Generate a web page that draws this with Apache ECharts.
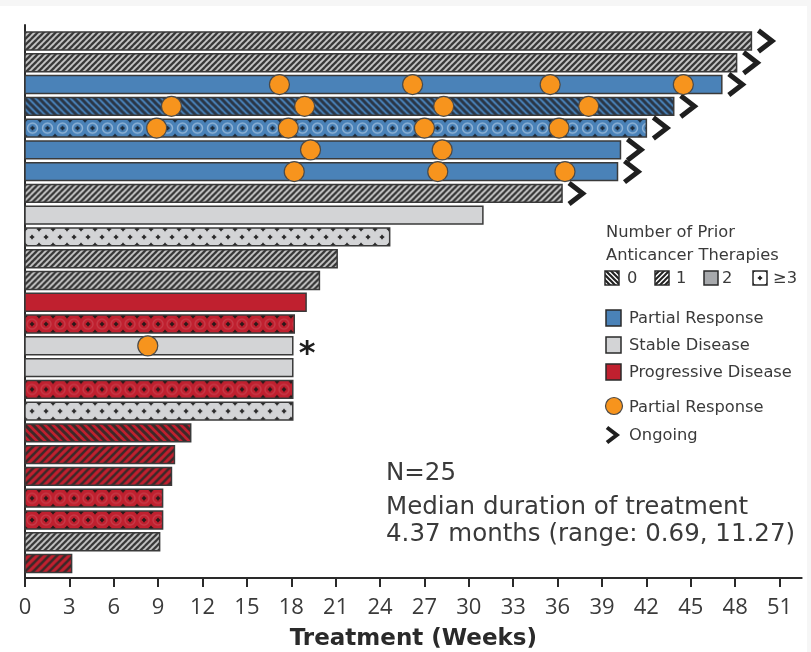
<!DOCTYPE html>
<html>
<head>
<meta charset="utf-8">
<script src="https://cdn.jsdelivr.net/npm/echarts@6/dist/echarts.min.js"></script>
<style>
  html, body { margin: 0; padding: 0; background: #fff; }
  #chart { width: 811px; height: 652px; }
</style>
</head>
<body>
<div id="chart"></div>
<script>
// Duration of treatment per patient (weeks), top row first
const weeks = [49.1, 48.1, 47.1, 43.85, 42.0, 40.25, 40.05, 36.3, 30.95, 24.65,
               21.1, 19.9, 19.0, 18.2, 18.1, 18.1, 18.1, 18.1, 11.2, 10.1,
               9.9, 9.3, 9.3, 9.1, 3.15];
// Best response: PR = partial response, SD = stable disease, PD = progressive disease
const response = ['SD', 'SD', 'PR', 'PR', 'PR', 'PR', 'PR', 'SD', 'SD', 'SD',
                  'SD', 'SD', 'PD', 'PD', 'SD', 'SD', 'PD', 'SD', 'PD', 'PD',
                  'PD', 'PD', 'PD', 'SD', 'PD'];
// Number of prior anticancer therapies (3 means 3 or more)
const priorLines = [1, 1, 2, 0, 3, 2, 2, 1, 2, 3,
                    1, 1, 2, 3, 2, 2, 3, 3, 0, 1,
                    1, 3, 3, 1, 1];
// Treatment still ongoing
const ongoing = [1, 1, 1, 1, 1, 1, 1, 1, 0, 0,
                 0, 0, 0, 0, 0, 0, 0, 0, 0, 0,
                 0, 0, 0, 0, 0];
// Weeks at which a partial response was recorded
const prWeeks = [[], [], [17.2, 26.2, 35.5, 44.5], [9.9, 18.9, 28.3, 38.1], [8.9, 17.8, 27.0, 36.1],
                 [19.3, 28.2], [18.2, 27.9, 36.5], [], [], [],
                 [], [], [], [], [8.3], [], [], [], [], [],
                 [], [], [], [], []];
// Footnote markers
const notes = ['', '', '', '', '', '', '', '', '', '',
               '', '', '', '', '*', '', '', '', '', '',
               '', '', '', '', ''];
const tickLabels = [0, 3, 6, 9, 12, 15, 18, 21, 24, 27, 30, 33, 36, 39, 42, 45, 48, 51];

const FONT = '"DejaVu Sans", "Noto Sans", sans-serif';
const TEXT = '#3a3a3a';
const EDGE = '#3a3a3a';
const COLORS = { PR: '#4a82b8', SD: '#d3d4d6', PD: '#c0202f' };

// ---- fill patterns -------------------------------------------------------
function tile(w, h, draw) {
  const c = document.createElement('canvas');
  c.width = w; c.height = h;
  draw(c.getContext('2d'), w, h);
  return c;
}
function hatch(bg, fg, p, lw, dir) {
  return tile(p, p, (g) => {
    g.fillStyle = bg; g.fillRect(0, 0, p, p);
    g.strokeStyle = fg; g.lineWidth = lw; g.lineCap = 'square';
    g.beginPath();
    for (let k = -1; k <= 1; k++) {
      if (dir > 0) { g.moveTo(k * p, p); g.lineTo(k * p + p, 0); }
      else { g.moveTo(k * p, 0); g.lineTo(k * p + p, p); }
    }
    g.stroke();
  });
}
function dotted(bg, fg, ring, w, h) {
  return tile(w, h, (g) => {
    g.fillStyle = bg; g.fillRect(0, 0, w, h);
    if (ring) {
      g.strokeStyle = ring; g.lineWidth = 1.5;
      g.beginPath(); g.arc(w / 2, h / 2, 5, 0, Math.PI * 2); g.stroke();
    }
    g.fillStyle = fg;
    [[w / 2, h / 2], [0, 0], [w, 0], [0, h], [w, h]].forEach(([x, y]) => {
      g.fillRect(x - 2.2, y - 0.8, 4.4, 1.6);
      g.fillRect(x - 0.8, y - 2.2, 1.6, 4.4);
      g.beginPath(); g.arc(x, y, 1.4, 0, Math.PI * 2); g.fill();
    });
  });
}
const tiles = {
  SD1: hatch('#cbcbcb', '#363636', 6, 2.3, 1),
  SD3: dotted('#d3d4d6', '#2a2a2a', null, 14, 16),
  PR0: hatch(COLORS.PR, '#2a3646', 7, 3.0, -1),
  PR3: dotted(COLORS.PR, '#1e2a38', 'rgba(235,242,250,0.45)', 15, 16),
  PD0: hatch(COLORS.PD, '#3a2a2a', 8, 3.0, -1),
  PD1: hatch(COLORS.PD, '#3a2a2a', 8, 2.6, 1),
  PD3: dotted(COLORS.PD, '#2a1a1a', 'rgba(255,255,255,0.12)', 14, 16),
  KEY0: hatch('#ffffff', '#222222', 5, 2.2, -1),
  KEY1: hatch('#ffffff', '#222222', 5, 2.0, 1),
  KEY3: dotted('#ffffff', '#222222', null, 14, 14)
};
function barFill(i, x, y) {
  const key = response[i] + priorLines[i];
  if (!tiles[key]) return COLORS[response[i]];
  return { image: tiles[key], repeat: 'repeat', x: x, y: y };
}

// ---- marks built from the arrays ----------------------------------------
const barData = weeks.map((w, i) => [w, i]);
const prData = [];
prWeeks.forEach((list, i) => list.forEach((w) => prData.push([w, i])));

function chevron(x, cy, half, lw) {
  return {
    type: 'polyline',
    shape: { points: [[x, cy - half], [x + half * 1.3, cy], [x, cy + half]] },
    style: { stroke: '#1f1f1f', lineWidth: lw, fill: null, lineJoin: 'miter' }
  };
}

function renderBar(params, api) {
  const i = api.value(1);
  const p0 = api.coord([0, i]);
  const p1 = api.coord([api.value(0), i]);
  const h = api.size([0, 1])[1] * 0.82;
  const top = p0[1] - h / 2;
  const children = [{
    type: 'rect',
    shape: { x: p0[0], y: top, width: p1[0] - p0[0], height: h },
    style: { fill: barFill(i, p0[0], top + 1), stroke: EDGE, lineWidth: 1.5 }
  }];
  if (ongoing[i]) children.push(chevron(p1[0] + 7, p1[1], 10.5, 5));
  if (notes[i]) {
    children.push({
      type: 'text',
      style: { text: notes[i], x: p1[0] + 6, y: p1[1] + 9, fill: '#1f1f1f',
               font: 'bold 32px "DejaVu Sans", sans-serif', verticalAlign: 'middle' }
    });
  }
  return { type: 'group', children: children };
}

// ---- legend and notes (fixed positions on the canvas) --------------------
function label(text, x, y, size) {
  return { type: 'text', left: x, top: y - size * 0.62 + 3,
           style: { text: text, fill: TEXT, font: size + 'px ' + FONT } };
}
function swatch(x, y, w, h, fill) {
  return { type: 'rect', shape: { x: x, y: y, width: w, height: h },
           style: { fill: fill, stroke: '#2a2a2a', lineWidth: 1.5 } };
}
const LS = 16.3;
const graphics = [
  { type: 'rect', shape: { x: 0, y: 0, width: 811, height: 6 }, style: { fill: '#f6f6f6' }, z: -1 },
  { type: 'rect', shape: { x: 807, y: 0, width: 4, height: 652 }, style: { fill: '#f6f6f6' }, z: -1 },
  label('Number of Prior', 606, 232, LS),
  label('Anticancer Therapies', 606, 255, LS),
  swatch(605, 271, 14, 14, { image: tiles.KEY0, repeat: 'repeat' }),
  label('0', 627, 278, LS),
  swatch(655, 271, 14, 14, { image: tiles.KEY1, repeat: 'repeat' }),
  label('1', 676, 278, LS),
  swatch(704, 271, 14, 14, '#a7a9ac'),
  label('2', 722, 278, LS),
  swatch(753, 271, 14, 14, { image: tiles.KEY3, repeat: 'repeat', x: 753, y: 271 }),
  label('\u22653', 773, 278, LS),
  swatch(606, 310, 15, 16, COLORS.PR),
  label('Partial Response', 629, 318, LS),
  swatch(606, 337, 15, 16, COLORS.SD),
  label('Stable Disease', 629, 345, LS),
  swatch(606, 364, 15, 16, COLORS.PD),
  label('Progressive Disease', 629, 372, LS),
  { type: 'circle', shape: { cx: 614, cy: 406, r: 8.5 },
    style: { fill: '#f7941d', stroke: '#4a4a4a', lineWidth: 1.2 } },
  label('Partial Response', 629, 407, LS),
  chevron(607, 435, 7.5, 4),
  label('Ongoing', 629, 435, LS),
  label('N=25', 386, 473, 24.5),
  label('Median duration of treatment', 386, 507, 24.5),
  label('4.37 months (range: 0.69, 11.27)', 386, 534, 24.5)
];

const chart = echarts.init(document.getElementById('chart'), null, { renderer: 'canvas' });
chart.setOption({
  backgroundColor: '#ffffff',
  animation: false,
  grid: { left: 25, right: 9.3, top: 25, bottom: 74, containLabel: false, outerBoundsMode: 'none' },
  xAxis: {
    type: 'value', position: 'bottom', min: 0, max: 52.5, interval: 3,
    name: 'Treatment (Weeks)', nameLocation: 'middle', nameGap: 50,
    nameTextStyle: { fontFamily: FONT, fontWeight: 'bold', fontSize: 23, color: '#2a2a2a' },
    axisLine: { show: true, onZero: false, lineStyle: { color: '#2a2a2a', width: 2 } },
    axisTick: { show: true, length: 9, lineStyle: { color: '#2a2a2a', width: 2 }, customValues: tickLabels },
    axisLabel: { fontFamily: '"Open Sans", sans-serif', fontSize: 22, color: '#3a3a3a', margin: 19, customValues: tickLabels },
    splitLine: { show: false }
  },
  yAxis: {
    type: 'value', inverse: true, min: -0.735, max: 24.666,
    axisLine: { show: true, onZero: false, lineStyle: { color: '#2a2a2a', width: 2 } },
    axisTick: { show: false }, axisLabel: { show: false }, splitLine: { show: false }
  },
  graphic: graphics,
  series: [
    {
      type: 'custom', renderItem: renderBar, data: barData,
      encode: { x: 0, y: 1 }, clip: false, z: 2
    },
    {
      type: 'scatter', data: prData, symbol: 'circle', symbolSize: 20, z: 3,
      itemStyle: { color: '#f7941d', borderColor: '#4a4a4a', borderWidth: 1.2, opacity: 1 }
    }
  ]
});
</script>
</body>
</html>
